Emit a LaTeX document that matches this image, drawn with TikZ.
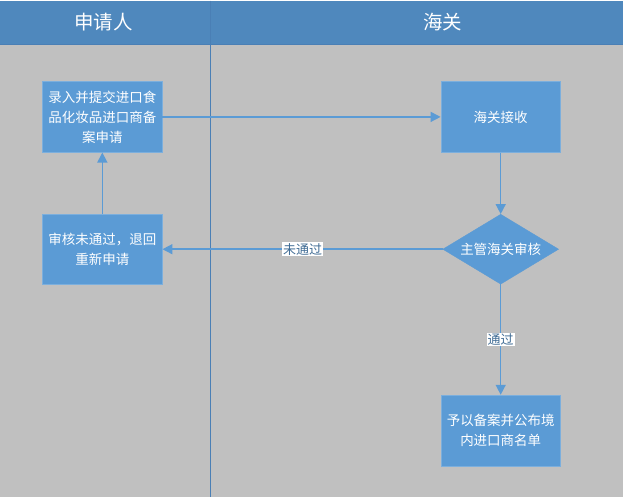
\documentclass[tikz,border=0pt]{standalone}
\usepackage{fontspec}
\newfontfamily\cjk{Noto Sans CJK SC}
\usetikzlibrary{shapes.geometric,arrows.meta}

\definecolor{lanegray}{HTML}{C0C0C0}
\definecolor{headblue}{HTML}{4F88BD}
\definecolor{boxblue}{HTML}{5B9BD5}
\definecolor{lineblue}{HTML}{4A7FB5}

\tikzset{
    procbox/.style={draw=boxblue!80!white, fill=boxblue, minimum width=120pt, minimum height=71pt,
        inner sep=0pt, align=center, text=white, font=\cjk\fontsize{13.5}{20}\selectfont},
    checkbox/.style={diamond, aspect=1.65, draw=boxblue, fill=boxblue, minimum width=116pt,
        minimum height=70pt, inner sep=0pt, text=white, font=\cjk\fontsize{13.5}{20}\selectfont},
    flow/.style={draw=boxblue, line width=1.5pt, -{Triangle[length=10pt, width=10pt]}},
    edgelabel/.style={fill=white, inner sep=1pt, text=boxblue!70!black, font=\cjk\fontsize{13}{15}\selectfont}
}

\begin{document}
\begin{tikzpicture}[x=1pt, y=-1pt]
            % Lanes
            \fill [lanegray] (0,0) rectangle (623,497);
            \fill [headblue] (0,0) rectangle (623,44);
            \draw [lineblue, line width=1pt] (0,44) -- (623,44);
            \draw [lineblue, line width=1.2pt] (210.5,0) -- (210.5,497);
            \node [text=white, font=\cjk\fontsize{19.5}{22}\selectfont] (lane1) at (103,22) {申请人};
            \node [text=white, font=\cjk\fontsize{19.5}{22}\selectfont] (lane2) at (443,22) {海关};

            % Steps
            \node [procbox] (apply) at (102,116.5) {录入并提交进口食\\品化妆品进口商备\\案申请};
            \node [procbox] (receive) at (501,116.5) {海关接收};
            \node [checkbox] (check) at (501,249) {主管海关审核};
            \node [procbox] (reject) at (102,249) {审核未通过，退回\\重新申请};
            \node [procbox] (publish) at (501,430.5) {予以备案并公布境\\内进口商名单};

            % Flow
            \draw [flow] (apply) -- (receive);
            \draw [flow] (receive) -- (check);
            \draw [flow] (check) -- node [edgelabel] {未通过} (reject);
            \draw [flow] (check) -- node [edgelabel, pos=0.5] {通过} (publish);
            \draw [flow] (reject) -- (apply);
        \end{tikzpicture}
\end{document}
